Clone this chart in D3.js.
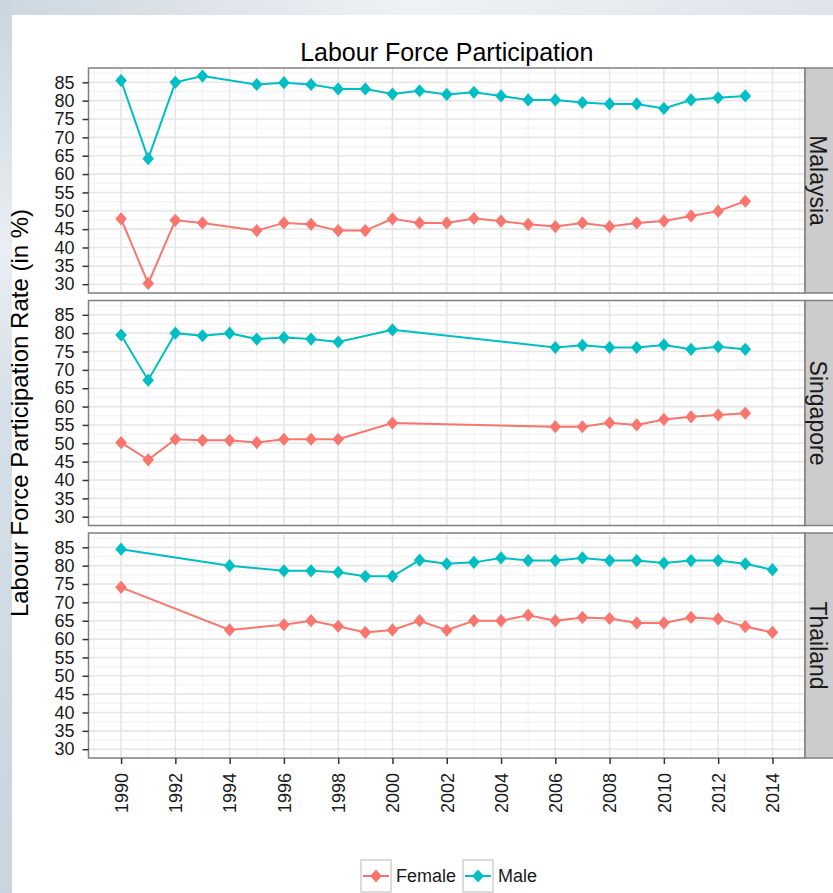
<!DOCTYPE html>
<html>
<head>
<meta charset="utf-8">
<script src="https://cdn.jsdelivr.net/npm/d3@7"></script>
<style>
  body { margin: 0; background: #ffffff; }
  svg { display: block; font-family: "Liberation Sans", Arial, sans-serif; }
  .axis path.domain { display: none; }
  .axis line { stroke: #333333; stroke-width: 1.5px; }
  .axis text { fill: #1a1a1a; font-size: 18px; }
</style>
</head>
<body>
<div id="chart"></div>
<script>
// facets and series
const countries = ['Malaysia', 'Singapore', 'Thailand'];
const seriesNames = ['Female', 'Male'];
const seriesColors = ['#F8766D', '#00BFC4'];

// values (years with no data are skipped)
const malaysiaYears = [1990, 1991, 1992, 1993, 1995, 1996, 1997, 1998, 1999, 2000, 2001, 2002,
  2003, 2004, 2005, 2006, 2007, 2008, 2009, 2010, 2011, 2012, 2013];
const malaysiaFemale = [47.8, 30.2, 47.4, 46.7, 44.6, 46.7, 46.3, 44.6, 44.6, 47.8, 46.7, 46.7,
  47.9, 47.2, 46.3, 45.7, 46.7, 45.7, 46.7, 47.2, 48.6, 49.9, 52.6];
const malaysiaMale = [85.5, 64.2, 85.0, 86.7, 84.4, 84.9, 84.4, 83.2, 83.2, 81.8, 82.7, 81.7,
  82.3, 81.3, 80.2, 80.2, 79.5, 79.1, 79.1, 77.9, 80.2, 80.8, 81.3];

const singaporeYears = [1990, 1991, 1992, 1993, 1994, 1995, 1996, 1997, 1998, 2000,
  2006, 2007, 2008, 2009, 2010, 2011, 2012, 2013];
const singaporeFemale = [50.2, 45.5, 51.1, 50.8, 50.8, 50.2, 51.1, 51.1, 51.1, 55.5,
  54.5, 54.5, 55.6, 55.0, 56.5, 57.2, 57.7, 58.2];
const singaporeMale = [79.5, 67.2, 80.0, 79.3, 80.0, 78.4, 78.8, 78.4, 77.6, 80.9,
  76.1, 76.7, 76.1, 76.1, 76.8, 75.6, 76.3, 75.6];

const thailandYears = [1990, 1994, 1996, 1997, 1998, 1999, 2000, 2001, 2002, 2003, 2004,
  2005, 2006, 2007, 2008, 2009, 2010, 2011, 2012, 2013, 2014];
const thailandFemale = [74.1, 62.5, 63.9, 65.0, 63.5, 61.8, 62.5, 65.0, 62.4, 65.0, 65.0,
  66.5, 65.0, 65.9, 65.6, 64.4, 64.4, 65.9, 65.5, 63.4, 61.8];
const thailandMale = [84.5, 80.0, 78.6, 78.6, 78.2, 77.1, 77.1, 81.5, 80.5, 80.9, 82.1,
  81.4, 81.4, 82.1, 81.4, 81.4, 80.7, 81.4, 81.4, 80.5, 78.9];

const xTicks = [1990, 1992, 1994, 1996, 1998, 2000, 2002, 2004, 2006, 2008, 2010, 2012, 2014];
const xMinor = [1989, 1991, 1993, 1995, 1997, 1999, 2001, 2003, 2005, 2007, 2009, 2011, 2013, 2015];
const yTicks = [30, 35, 40, 45, 50, 55, 60, 65, 70, 75, 80, 85];
const yMinor = [27.5, 32.5, 37.5, 42.5, 47.5, 52.5, 57.5, 62.5, 67.5, 72.5, 77.5, 82.5, 87.5];

const panelData = [
  { years: malaysiaYears, values: [malaysiaFemale, malaysiaMale] },
  { years: singaporeYears, values: [singaporeFemale, singaporeMale] },
  { years: thailandYears, values: [thailandFemale, thailandMale] }
];

const width = 833, height = 893;
const panelLeft = 88.5, panelRight = 805, stripWidth = 40;
const panelTops = [68, 300.5, 533], panelHeight = 225;

const svg = d3.select('#chart')
  .append('svg')
  .attr('width', width)
  .attr('height', height);

// slide background around the picture
const defs = svg.append('defs');
const leftGrad = defs.append('linearGradient').attr('id', 'leftGrad')
  .attr('x1', '0%').attr('y1', '0%').attr('x2', '0%').attr('y2', '100%');
leftGrad.append('stop').attr('offset', '0%').attr('stop-color', '#c9d5df');
leftGrad.append('stop').attr('offset', '28%').attr('stop-color', '#e9eef2');
leftGrad.append('stop').attr('offset', '45%').attr('stop-color', '#d6e0e8');
leftGrad.append('stop').attr('offset', '100%').attr('stop-color', '#c8d4de');
const topGrad = defs.append('linearGradient').attr('id', 'topGrad')
  .attr('x1', '0%').attr('y1', '0%').attr('x2', '100%').attr('y2', '0%');
topGrad.append('stop').attr('offset', '0%').attr('stop-color', '#ccd7e0');
topGrad.append('stop').attr('offset', '50%').attr('stop-color', '#eef2f5');
topGrad.append('stop').attr('offset', '100%').attr('stop-color', '#dde4ea');

svg.append('rect').attr('x', 0).attr('y', 0).attr('width', width).attr('height', 15)
  .attr('fill', 'url(#topGrad)');
svg.append('rect').attr('x', 0).attr('y', 0).attr('width', 12).attr('height', height)
  .attr('fill', 'url(#leftGrad)');

const x = d3.scaleLinear().domain([1988.8, 2015.2]).range([panelLeft, panelRight]);

const diamond = 'M0,-6.6L5.8,0L0,6.6L-5.8,0Z';

panelData.forEach((p, i) => {
  const top = panelTops[i];
  const y = d3.scaleLinear().domain([27.6, 88.9]).range([top + panelHeight, top]);
  const g = svg.append('g');

  g.append('rect')
    .attr('x', panelLeft).attr('y', top)
    .attr('width', panelRight - panelLeft).attr('height', panelHeight)
    .attr('fill', '#ffffff');

  // minor then major grid
  g.selectAll('.xminor').data(xMinor).enter().append('line')
    .attr('x1', d => x(d)).attr('x2', d => x(d))
    .attr('y1', top).attr('y2', top + panelHeight)
    .attr('stroke', '#f4f4f4').attr('stroke-width', 1.3);
  g.selectAll('.yminor').data(yMinor).enter().append('line')
    .attr('x1', panelLeft).attr('x2', panelRight)
    .attr('y1', d => y(d)).attr('y2', d => y(d))
    .attr('stroke', '#f4f4f4').attr('stroke-width', 1.3);
  g.selectAll('.xmajor').data(xTicks).enter().append('line')
    .attr('x1', d => x(d)).attr('x2', d => x(d))
    .attr('y1', top).attr('y2', top + panelHeight)
    .attr('stroke', '#e6e6e6').attr('stroke-width', 1.6);
  g.selectAll('.ymajor').data(yTicks).enter().append('line')
    .attr('x1', panelLeft).attr('x2', panelRight)
    .attr('y1', d => y(d)).attr('y2', d => y(d))
    .attr('stroke', '#e6e6e6').attr('stroke-width', 1.6);

  // lines and diamonds
  p.values.forEach((vals, s) => {
    const pts = p.years.map((yr, k) => ({ x: yr, y: vals[k] }));
    const line = d3.line().x(d => x(d.x)).y(d => y(d.y));
    g.append('path')
      .attr('d', line(pts))
      .attr('fill', 'none')
      .attr('stroke', seriesColors[s])
      .attr('stroke-width', 2);
    g.selectAll('.pt' + s).data(pts).enter().append('path')
      .attr('d', diamond)
      .attr('transform', d => `translate(${x(d.x)},${y(d.y)})`)
      .attr('fill', seriesColors[s]);
  });

  g.append('rect')
    .attr('x', panelLeft).attr('y', top)
    .attr('width', panelRight - panelLeft).attr('height', panelHeight)
    .attr('fill', 'none').attr('stroke', '#808080').attr('stroke-width', 1.5);

  // strip on the right
  g.append('rect')
    .attr('x', panelRight).attr('y', top)
    .attr('width', stripWidth).attr('height', panelHeight)
    .attr('fill', '#cccccc').attr('stroke', '#808080').attr('stroke-width', 1.5);
  g.append('text')
    .attr('transform', `translate(${panelRight + 13},${top + panelHeight / 2}) rotate(90)`)
    .attr('text-anchor', 'middle')
    .attr('dy', '0.35em')
    .attr('font-size', '23px')
    .attr('fill', '#1a1a1a')
    .text(countries[i]);

  // y axis
  g.append('g')
    .attr('class', 'axis')
    .attr('transform', `translate(${panelLeft},0)`)
    .call(d3.axisLeft(y).tickValues(yTicks).tickSize(6).tickPadding(8));
});

// x axis under the last panel
const bottom = panelTops[2] + panelHeight;
svg.append('g')
  .attr('class', 'axis')
  .attr('transform', `translate(0,${bottom})`)
  .call(d3.axisBottom(x).tickValues(xTicks).tickSize(6).tickFormat(d3.format('d')))
  .call(g => g.selectAll('.tick text')
    .attr('transform', 'rotate(-90)')
    .attr('text-anchor', 'end')
    .attr('x', -15)
    .attr('y', 0)
    .attr('dy', '0.35em'));

// titles
svg.append('text')
  .attr('x', (panelLeft + panelRight) / 2)
  .attr('y', 61)
  .attr('text-anchor', 'middle')
  .attr('font-size', '25px')
  .attr('fill', '#000000')
  .text('Labour Force Participation');

svg.append('text')
  .attr('transform', `translate(20,${(panelTops[0] + bottom) / 2}) rotate(-90)`)
  .attr('text-anchor', 'middle')
  .attr('dy', '0.35em')
  .attr('font-size', '24px')
  .attr('fill', '#000000')
  .text('Labour Force Participation Rate (in %)');

// legend
const legendX = [361, 463];
const legend = svg.append('g');
seriesNames.forEach((name, s) => {
  const lx = legendX[s];
  legend.append('rect')
    .attr('x', lx).attr('y', 860).attr('width', 30).attr('height', 32)
    .attr('fill', '#ffffff').attr('stroke', '#d0d0d0').attr('stroke-width', 1.5);
  legend.append('line')
    .attr('x1', lx + 2).attr('x2', lx + 28).attr('y1', 876).attr('y2', 876)
    .attr('stroke', seriesColors[s]).attr('stroke-width', 2);
  legend.append('path')
    .attr('d', diamond)
    .attr('transform', `translate(${lx + 15},876)`)
    .attr('fill', seriesColors[s]);
  legend.append('text')
    .attr('x', lx + 35).attr('y', 876)
    .attr('dy', '0.35em')
    .attr('font-size', '18px')
    .attr('fill', '#1a1a1a')
    .text(name);
});
</script>
</body>
</html>
